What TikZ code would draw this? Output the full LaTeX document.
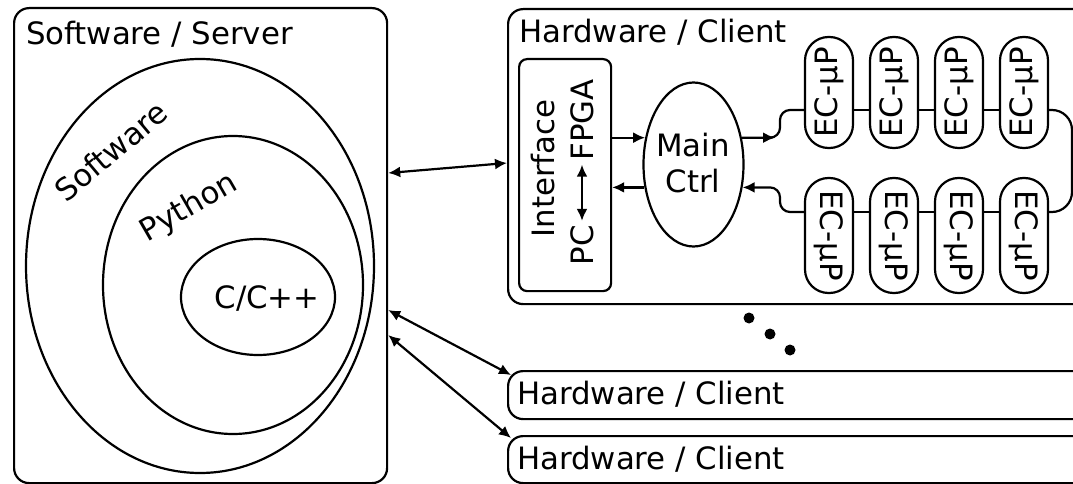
\documentclass[tikz,border=0pt]{standalone}
\usepackage{fontspec}
\setmainfont{DejaVu Sans}
\usetikzlibrary{shapes.geometric, arrows.meta, calc}
\begin{document}
\begin{tikzpicture}[x=1pt, y=-1pt, line width=2.2pt,
  every node/.style={font=\fontsize{30.8}{36}\selectfont, inner sep=0pt},
  frame/.style={draw, rounded corners=15pt, anchor=north west},
  oval/.style={draw, ellipse},
  pill/.style={draw, rounded corners=23.5pt, minimum width=48pt, inner sep=0pt},
  arr/.style={-{Latex[length=12pt,width=11pt]}},
  darr/.style={{Latex[length=12pt,width=11pt]}-{Latex[length=12pt,width=11pt]}},
  dot/.style={circle, fill, minimum size=11pt, inner sep=0pt}]
\useasboundingbox (0,0) rectangle (1073,484);

% Software / Server
\node[frame, minimum width=373pt, minimum height=475pt] (srv) at (13,7) {};
\node[anchor=base west] (srvt) at (25,45) {Software / Server};
\node[oval, minimum width=348pt, minimum height=414pt] (swo) at (200,266) {};
\node[oval, minimum width=260pt, minimum height=298pt] (pyo) at (233,285) {};
\node[oval, minimum width=154pt, minimum height=116pt] (cco) at (258,297) {};
\node[rotate=40] (swt) at (111,151) {Software};
\node[rotate=30] (pyt) at (189,208) {Python};
\node (cct) at (267,298) {C/C++};

% Hardware / Client (main)
\node[frame, minimum width=583pt, minimum height=295pt] (hw1) at (507,8) {};
\node[anchor=base west] (hw1t) at (518,43) {Hardware / Client};
\node[draw, rounded corners=8pt, anchor=north west, minimum width=92pt, minimum height=232pt] (ifb) at (518,58) {};
\node[rotate=90] (ift) at (543.5,168.5) {Interface};
\node[rotate=90, inner sep=3pt] (pc) at (582,245) {PC};
\node[rotate=90, inner sep=3pt] (fpga) at (582,120) {FPGA};
\draw[darr] (pc.east) -- (fpga.west);

\node[oval, minimum width=100pt, minimum height=164pt] (main) at (693.5,164.5) {};
\node[align=center] (maint) at (693,163) {Main\\Ctrl};
\draw[arr] (ifb.east |- main.151) -- (main.151);
\draw[arr] (main.205) -- (ifb.east |- main.205);

% EC chain
\node[pill, minimum height=111pt] (p1) at (829,92.5) {\rotatebox{90}{EC-µP}};
\node[pill, minimum height=111pt] (p2) at (894,92.5) {\rotatebox{90}{EC-µP}};
\node[pill, minimum height=111pt] (p3) at (959,92.5) {\rotatebox{90}{EC-µP}};
\node[pill, minimum height=111pt] (p4) at (1024,92.5) {\rotatebox{90}{EC-µP}};
\node[pill, minimum height=115pt] (p5) at (829,235.5) {\rotatebox{-90}{EC-µP}};
\node[pill, minimum height=115pt] (p6) at (894,235.5) {\rotatebox{-90}{EC-µP}};
\node[pill, minimum height=115pt] (p7) at (959,235.5) {\rotatebox{-90}{EC-µP}};
\node[pill, minimum height=115pt] (p8) at (1024,235.5) {\rotatebox{-90}{EC-µP}};

\coordinate (ct) at (780,110);
\coordinate (cb) at (780,212);
\coordinate (tin) at (775,138);
\coordinate (cr) at (1072,110);

\draw[rounded corners=10pt] (main.29) -| (ct) -- (p1.west |- ct);
\draw[arr] (main.29) -- (tin |- main.29);
\draw (p1.east |- ct) -- (p2.west |- ct);
\draw (p2.east |- ct) -- (p3.west |- ct);
\draw (p3.east |- ct) -- (p4.west |- ct);
\draw[rounded corners=20pt] (p4.east |- ct) -- (cr) |- (p8.east |- cb);
\draw (p8.west |- cb) -- (p7.east |- cb);
\draw (p7.west |- cb) -- (p6.east |- cb);
\draw (p6.west |- cb) -- (p5.east |- cb);
\draw[arr, rounded corners=10pt] (p5.west |- cb) -- (cb) |- (main.335);

% dots
\node[dot] (d1) at (749,318) {};
\node[dot] (d2) at (770,334) {};
\node[dot] (d3) at (790,350) {};

% other clients
\node[frame, minimum width=583pt, minimum height=48pt] (hw2) at (507,370) {};
\node[anchor=base west] (hw2t) at (516,404) {Hardware / Client};
\node[frame, minimum width=583pt, minimum height=47pt] (hw3) at (507,435) {};
\node[anchor=base west] (hw3t) at (516,469) {Hardware / Client};

% links
\draw[darr] (srv.east |- 0,173) -- (hw1.west |- 0,163);
\draw[darr] (srv.east |- 0,310) -- ($(hw2.north west)+(4,5)$);
\draw[darr] (srv.east |- 0,335) -- ($(hw3.north west)+(4,3)$);
\end{tikzpicture}
\end{document}
